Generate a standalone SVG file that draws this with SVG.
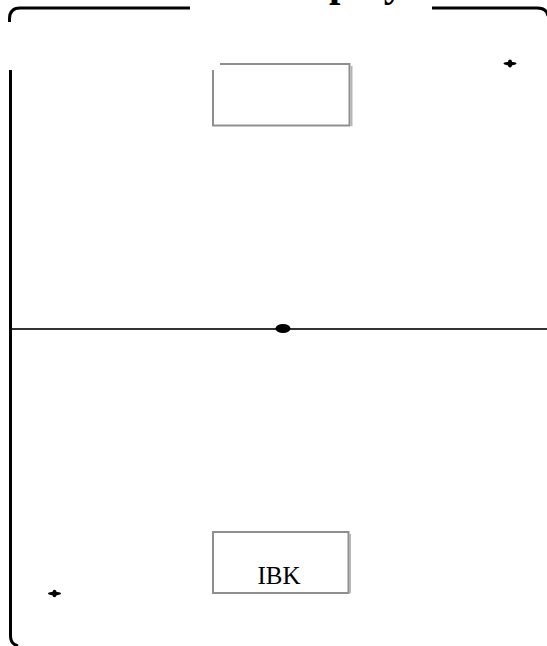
<svg xmlns="http://www.w3.org/2000/svg" width="547" height="646" viewBox="0 0 547 646">
  <style>
    .frame { fill: none; stroke: #000; stroke-width: 3; }
    .box { fill: #fff; stroke: #8f8f8f; stroke-width: 2; }
    .shadow { fill: none; stroke: #b5b5b5; stroke-width: 2; }
    .title { font-family: "Liberation Serif", "Times New Roman", serif; font-weight: bold; font-size: 41px; fill: #000; }
    .label { font-family: "Liberation Serif", "Times New Roman", serif; font-size: 25px; fill: #000; }
    .conn { stroke: #333; stroke-width: 2; fill: none; }
  </style>
  <rect width="547" height="646" fill="#fff"/>
  <g id="frame">
    <path class="frame" d="M 9.5 22 V 19 Q 9.5 8 20 8 H 190"/>
    <path class="frame" d="M 432 8 H 537 Q 547 8 548 16"/>
    <path class="frame" d="M 10.5 70 V 636 Q 10.5 644 18 646"/>
  </g>
  <g id="title">
    <text class="title" x="329" y="-4.5">ploy</text>
  </g>
  <g id="connectors">
    <line class="conn" x1="12" y1="329" x2="547" y2="329"/>
    <ellipse cx="283" cy="328.5" rx="7.5" ry="4.5" fill="#000"/>
  </g>
  <g id="node-top">
    <rect x="213" y="63.5" width="137" height="62" fill="#fff"/>
    <path class="box" d="M 220 64 H 349.5 V 125.5 H 213 V 70"/>
    <line class="shadow" x1="351.5" y1="66" x2="351.5" y2="126"/>
  </g>
  <g id="node-ibk">
    <rect class="box" x="213" y="532" width="135.5" height="61"/>
    <line class="shadow" x1="350" y1="534" x2="350" y2="593"/>
    <text class="label" x="279" y="584" text-anchor="middle">IBK</text>
  </g>
  <g id="mark-top-right">
    <ellipse cx="510" cy="63.5" rx="6.5" ry="1.8" fill="#000"/>
    <ellipse cx="510" cy="63.5" rx="2.2" ry="4" fill="#000"/>
  </g>
  <g id="mark-bottom-left">
    <ellipse cx="54.5" cy="593.5" rx="6.5" ry="1.8" fill="#000"/>
    <ellipse cx="54.5" cy="593.5" rx="2.2" ry="3.8" fill="#000"/>
  </g>
</svg>
